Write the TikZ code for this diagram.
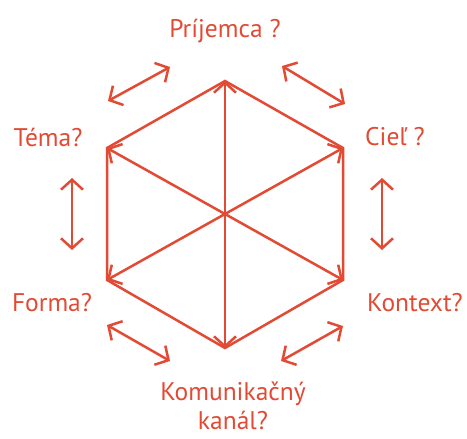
\documentclass[tikz,border=0pt]{standalone}
\usepackage{fontspec}
\setmainfont{PT Sans}
\usetikzlibrary{arrows.meta}
\definecolor{hexred}{RGB}{226,74,51}
\begin{document}
\begin{tikzpicture}[x=1pt,y=-1pt,line width=2.5pt,
  every node/.style={font=\fontsize{25.5}{29}\selectfont,text=hexred,align=center,inner sep=0pt},
  >={Straight Barb[length=10pt,width=22pt,line width=2.5pt]},
  hexline/.style={draw=hexred,line join=miter},
  spoke/.style={->,draw=hexred},
  twoway/.style={<->,draw=hexred}]
  \useasboundingbox (0,0) rectangle (467,439);
  % hexagon corners
  \coordinate (c) at (225,214);
  \coordinate (t) at (225,81);
  \coordinate (ur) at (343,148);
  \coordinate (lr) at (343,280);
  \coordinate (b) at (225,348);
  \coordinate (ll) at (107,280);
  \coordinate (ul) at (107,148);
  \draw[hexline] (t) -- (ur) -- (lr) -- (b) -- (ll) -- (ul) -- cycle;
  \foreach \v in {t,ur,lr,b,ll,ul}
    \draw[spoke] (c) -- (\v);
  % labels
  \node (prijemca) at (225,31) {Príjemca ?};
  \node (tema) at (48,137) {Téma?};
  \node (ciel) at (395,137) {Cieľ ?};
  \node (forma) at (52,303) {Forma?};
  \node (kontext) at (415,303) {Kontext?};
  \node (kanal) at (233,406) {Komunikačný\\kanál?};
  % double arrows
  \coordinate (tl1) at (108,101); \coordinate (tl2) at (170,67);
  \coordinate (tr1) at (282,66);  \coordinate (tr2) at (345,104);
  \coordinate (ml1) at (72,178);  \coordinate (ml2) at (72,250);
  \coordinate (mr1) at (382,178); \coordinate (mr2) at (382,250);
  \coordinate (bl1) at (107,325); \coordinate (bl2) at (170,361);
  \coordinate (br1) at (281,361); \coordinate (br2) at (343,326);
  \draw[twoway] (tl1) -- (tl2);
  \draw[twoway] (tr1) -- (tr2);
  \draw[twoway] (ml1) -- (ml2);
  \draw[twoway] (mr1) -- (mr2);
  \draw[twoway] (bl1) -- (bl2);
  \draw[twoway] (br1) -- (br2);
\end{tikzpicture}
\end{document}
